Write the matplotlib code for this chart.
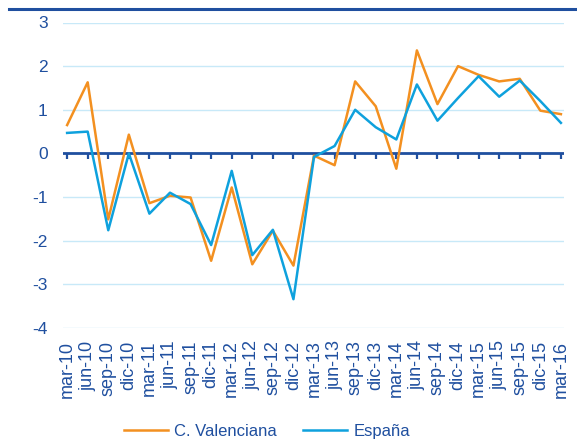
import matplotlib
matplotlib.use("Agg")
import matplotlib.pyplot as plt
from matplotlib.lines import Line2D

quarters = ["mar-10", "jun-10", "sep-10", "dic-10", "mar-11", "jun-11", "sep-11",
            "dic-11", "mar-12", "jun-12", "sep-12", "dic-12", "mar-13", "jun-13",
            "sep-13", "dic-13", "mar-14", "jun-14", "sep-14", "dic-14", "mar-15",
            "jun-15", "sep-15", "dic-15", "mar-16"]
valenciana = [0.65, 1.63, -1.51, 0.43, -1.14, -0.97, -1.01, -2.46, -0.78, -2.54,
              -1.77, -2.57, -0.05, -0.27, 1.65, 1.08, -0.35, 2.36, 1.13, 2.00,
              1.80, 1.65, 1.71, 0.98, 0.90]
espana = [0.47, 0.50, -1.76, 0.00, -1.38, -0.90, -1.16, -2.10, -0.40, -2.33,
          -1.75, -3.34, -0.08, 0.17, 1.00, 0.60, 0.32, 1.58, 0.75, 1.27,
          1.77, 1.30, 1.67, 1.20, 0.70]
yticks = [3, 2, 1, 0, -1, -2, -3, -4]

ORANGE = "#f39020"
BLUE = "#0ea1dd"
NAVY = "#1f4f9f"
GRID = "#c8e9f8"

plt.rcParams["font.family"] = ["Liberation Sans", "DejaVu Sans"]

fig = plt.figure(figsize=(5.77, 4.41), dpi=100)
ax = fig.add_axes([63 / 577, 1 - 328 / 441, (564 - 63) / 577, (328 - 22.5) / 441])

x = list(range(len(quarters)))
for v in yticks:
    if v != 0:
        ax.axhline(v, color=GRID, lw=1.0, zorder=0)

# zero axis with category tick marks
ax.axhline(0, color=NAVY, lw=2.0, zorder=2)
ax.plot(x, [0] * len(x), ls="none", marker=3, ms=4, mew=1.6, color=NAVY, zorder=2)

ax.plot(x, valenciana, color=ORANGE, lw=1.8, label="C. Valenciana", zorder=3)
ax.plot(x, espana, color=BLUE, lw=1.8, label="España", zorder=4)

ax.set_ylim(-4, 3)
ax.set_xlim(-0.2, 24.15)
ax.set_yticks(yticks)
ax.set_yticklabels([str(v) for v in yticks], color=NAVY, fontsize=12.5)
ax.set_xticks(x)
ax.set_xticklabels(quarters, rotation=90, color=NAVY, fontsize=13)
ax.tick_params(axis="both", length=0)
ax.tick_params(axis="x", pad=9)
ax.tick_params(axis="y", pad=11)
for s in ax.spines.values():
    s.set_visible(False)

fig.add_artist(Line2D([9 / 577, 1], [1 - 9 / 441] * 2, color=NAVY, lw=2.2,
                      transform=fig.transFigure))

fig.legend(handles=ax.get_lines()[-2:], loc="lower center",
           bbox_to_anchor=(0.463, -0.03), ncol=2,
           frameon=False, fontsize=12, handlelength=2.6, columnspacing=1.56,
           handletextpad=0.4, labelcolor=NAVY)

fig.savefig("out.png", dpi=100)
